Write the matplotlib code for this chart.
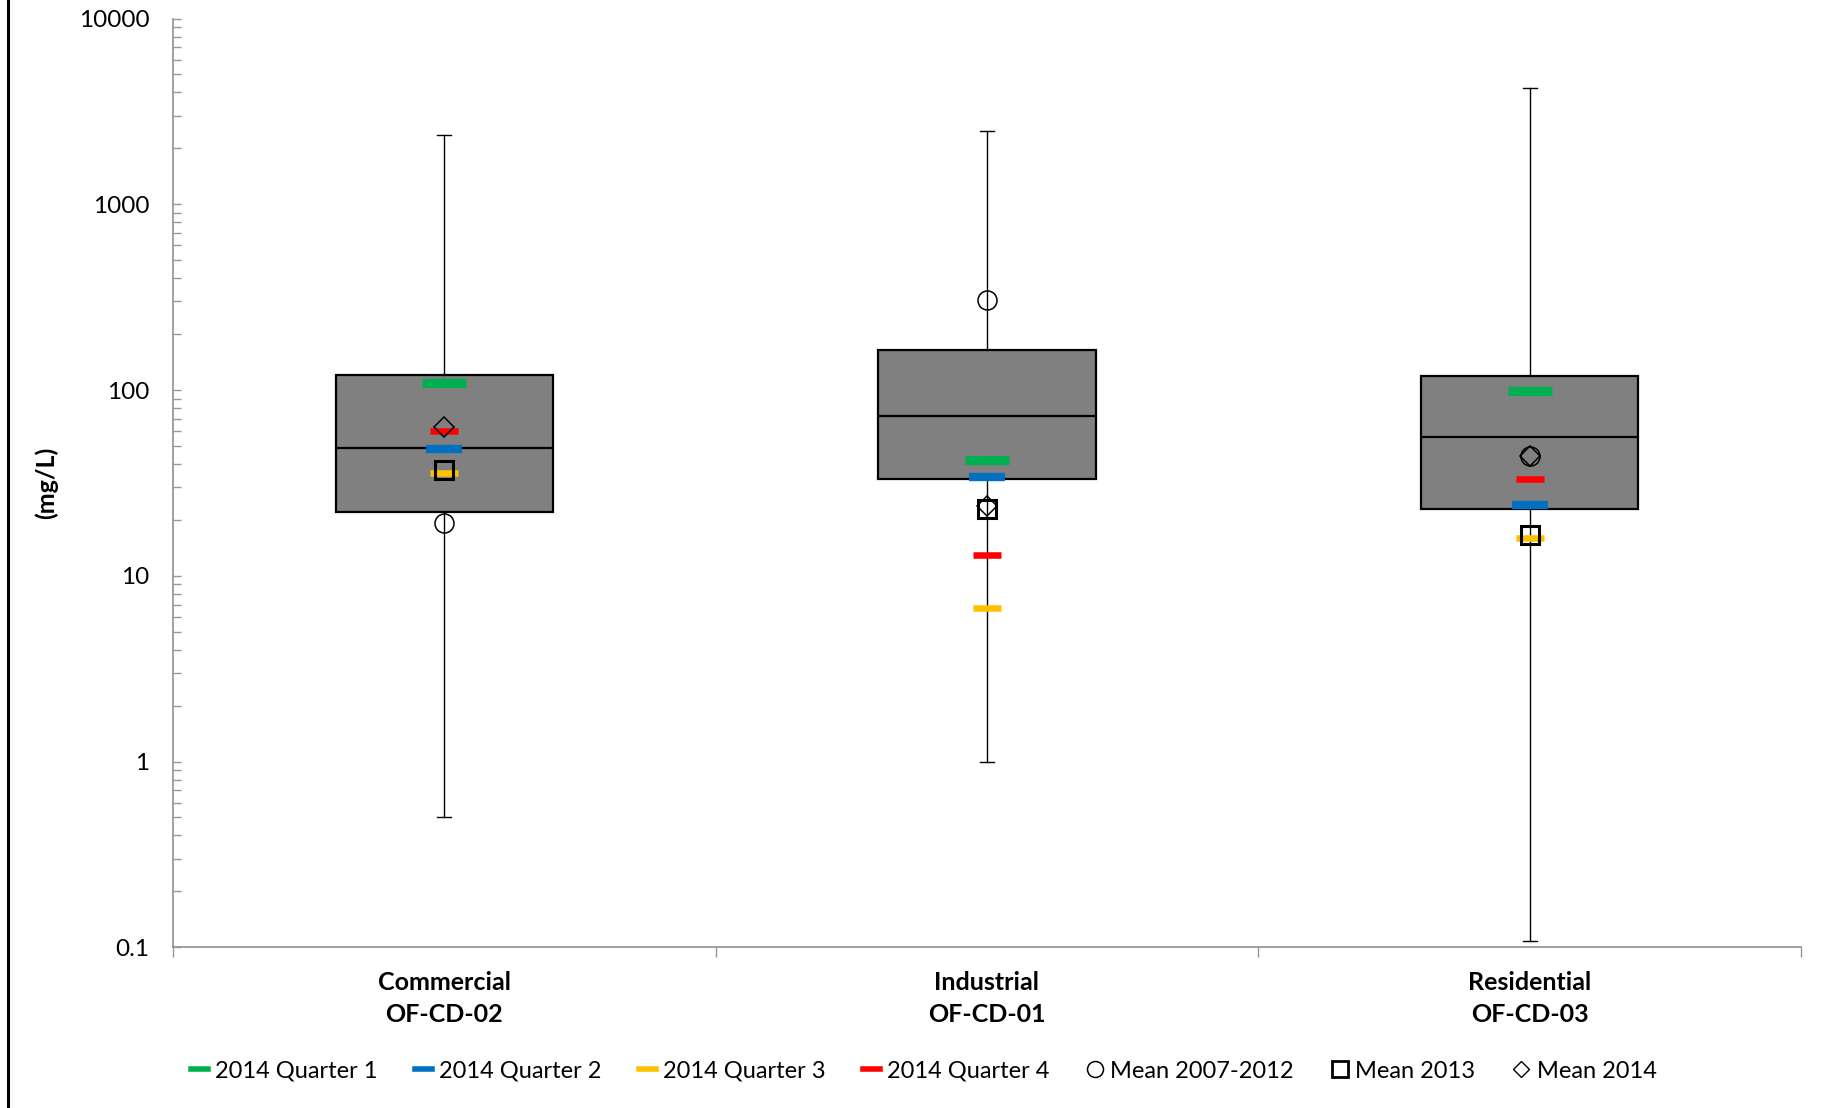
import matplotlib
matplotlib.use("Agg")
import matplotlib.pyplot as plt
from matplotlib.lines import Line2D
import numpy as np

plt.rcParams['font.family'] = ['Lato', 'DejaVu Sans']

categories = ["Commercial\nOF-CD-02", "Industrial\nOF-CD-01", "Residential\nOF-CD-03"]
whisker_min = [0.5, 1.0, 0.108]
box_q1 = [22.1, 33.1, 22.8]
box_median = [48.8, 72.8, 55.7]
box_q3 = [120.6, 164.0, 119.0]
whisker_max = [2370, 2470, 4210]

quarter1_2014 = [109.6, 42.0, 99.3]
quarter2_2014 = [48.0, 34.0, 24.1]
quarter3_2014 = [35.9, 6.7, 15.9]
quarter4_2014 = [60.0, 13.0, 33.1]
mean_2007_2012 = [19.3, 305.0, 44.2]
mean_2013 = [37.2, 22.9, 16.5]
mean_2014 = [63.5, 23.8, 44.2]

y_ticks = [0.1, 1, 10, 100, 1000, 10000]
y_tick_labels = ["0.1", "1", "10", "100", "1000", "10000"]

GREEN, BLUE, YELLOW, RED = "#00B050", "#0070C0", "#FFC000", "#FF0000"
AXCOL = "#989898"

fig = plt.figure(figsize=(18.22, 11.08), dpi=100)
ax = fig.add_axes([173/1822, 1 - 947.3/1108, (1801 - 173)/1822, (947.3 - 18.5)/1108])

pos = np.arange(len(categories))
stats = [dict(whislo=a, q1=b, med=c, q3=d, whishi=e, fliers=[])
         for a, b, c, d, e in zip(whisker_min, box_q1, box_median, box_q3, whisker_max)]
ax.bxp(stats, positions=pos, widths=0.4, patch_artist=True, showfliers=False,
       capwidths=0.026,
       boxprops=dict(facecolor="#808080", edgecolor="black", linewidth=1.6),
       medianprops=dict(color="black", linewidth=1.6),
       whiskerprops=dict(color="black", linewidth=1.0),
       capprops=dict(color="black", linewidth=1.0), zorder=2)

def bars(vals, color, w, t):
    ax.plot(pos, vals, linestyle="none", marker="_", markersize=w,
            markeredgewidth=t, color=color, zorder=4)

bars(quarter1_2014, GREEN, 31.7, 6.7)
bars(quarter2_2014, BLUE, 26.0, 6.0)
bars(quarter3_2014, YELLOW, 20.2, 4.7)
bars(quarter4_2014, RED, 20.2, 4.7)

ax.plot(pos, mean_2007_2012, linestyle="none", marker="o", markersize=13.7,
        markerfacecolor="none", markeredgecolor="black", markeredgewidth=1.1, zorder=5)
ax.plot(pos, mean_2013, linestyle="none", marker="s", markersize=13.5,
        markerfacecolor="none", markeredgecolor="black", markeredgewidth=2.2, zorder=5)
ax.plot(pos, mean_2014, linestyle="none", marker="D", markersize=9.7,
        markerfacecolor="none", markeredgecolor="black", markeredgewidth=1.1, zorder=5)

ax.set_yscale("log")
ax.set_ylim(0.1, 10000)
ax.set_xlim(-0.5, len(categories) - 0.5)
ax.set_yticks(y_ticks)
ax.set_yticklabels(y_tick_labels)
ax.yaxis.set_minor_locator(matplotlib.ticker.LogLocator(base=10, subs=np.arange(2, 10)))
ax.yaxis.set_minor_formatter(matplotlib.ticker.NullFormatter())
ax.tick_params(axis="y", which="both", direction="in", length=6, width=1.0,
               color=AXCOL, labelsize=17.5, pad=17)

ax.set_xticks(pos)
ax.set_xticklabels(categories, fontsize=18, fontweight="bold", linespacing=1.5)
ax.set_xticks(np.arange(-0.5, len(categories)), minor=True)
ax.tick_params(axis="x", which="major", length=0, pad=17)
ax.tick_params(axis="x", which="minor", direction="out", length=7, width=1.0, color=AXCOL)

for s in ["top", "right"]:
    ax.spines[s].set_visible(False)
for s in ["left", "bottom"]:
    ax.spines[s].set_color(AXCOL)
    ax.spines[s].set_linewidth(1.3)

ax.set_ylabel("(mg/L)", fontsize=18, fontweight="bold")
ax.yaxis.set_label_coords((58 - 173) / 1628, 0.5)

handles = [
    Line2D([], [], color=GREEN, lw=4.0),
    Line2D([], [], color=BLUE, lw=4.0),
    Line2D([], [], color=YELLOW, lw=4.0),
    Line2D([], [], color=RED, lw=4.0),
    Line2D([], [], linestyle="none", marker="o", markersize=11.5, markerfacecolor="none",
           markeredgecolor="black", markeredgewidth=1.1),
    Line2D([], [], linestyle="none", marker="s", markersize=11.5, markerfacecolor="none",
           markeredgecolor="black", markeredgewidth=2.0),
    Line2D([], [], linestyle="none", marker="D", markersize=8.0, markerfacecolor="none",
           markeredgecolor="black", markeredgewidth=1.0),
]
labels = ["2014 Quarter 1", "2014 Quarter 2", "2014 Quarter 3", "2014 Quarter 4",
          "Mean 2007-2012", "Mean 2013", "Mean 2014"]
fig.legend(handles, labels, loc="center", bbox_to_anchor=(924/1822, 1 - 1071/1108),
           ncol=7, frameon=False, fontsize=17, handlelength=0.7, handletextpad=0.3,
           columnspacing=1.6, borderpad=0)

fig.add_artist(Line2D([8/1822, 8/1822], [0, 1], transform=fig.transFigure,
                      color="black", linewidth=2.2))

fig.savefig("out.png", dpi=100)
